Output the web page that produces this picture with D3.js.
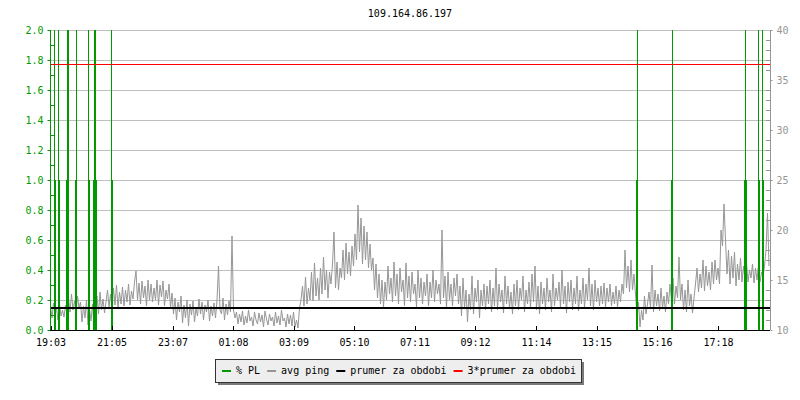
<!DOCTYPE html>
<html>
<head>
<meta charset="utf-8">
<script src="https://cdn.jsdelivr.net/npm/d3@7"></script>
<style>
  html, body { margin: 0; padding: 0; background: #ffffff; }
  svg { display: block; }
  text { font-family: "DejaVu Sans Mono", monospace; font-size: 10px; }
</style>
</head>
<body>
<svg id="chart" width="800" height="400"></svg>
<script>
// ---------------- DATA ----------------
const title = "109.164.86.197";
const startTime = "19:02";           // left edge of the plot
const spanHours = 24;
const pingStepMinutes = 3;           // sample spacing of the avg ping series

const timeTickLabels = ["19:03","21:05","23:07","01:08","03:09","05:10","07:11","09:12","11:14","13:15","15:16","17:18"];
const plTickLabels = [0.0,0.2,0.4,0.6,0.8,1.0,1.2,1.4,1.6,1.8,2.0];
const pingTickLabels = [10,15,20,25,30,35,40];

// avg ping (ms), one value every 3 minutes from 19:02
const avgPing = [
  12.4, 11.2, 12.7, 11.5, 12.2, 11.0, 12.6, 11.4, 12.0, 11.3,
  12.5, 11.6, 13.2, 11.8, 13.6, 12.0, 12.9, 11.7, 13.4, 12.2,
  12.8, 10.8, 12.4, 11.2, 13.0, 10.5, 12.1, 10.9, 12.6, 10.3,
  12.2, 13.4, 11.6, 13.8, 12.0, 13.1, 11.7, 12.8, 14.0, 12.3,
  13.6, 12.1, 14.2, 12.5, 14.5, 12.2, 13.8, 12.6, 14.3, 12.4,
  14.0, 12.8, 14.6, 12.5, 13.9, 13.1, 14.8, 15.9, 13.0, 14.7,
  12.6, 14.9, 13.2, 14.4, 12.4, 15.0, 13.0, 14.6, 12.8, 14.2,
  13.0, 15.0, 12.5, 14.5, 13.3, 14.9, 12.4, 14.0, 13.1, 14.6,
  12.2, 13.7, 11.6, 13.2, 11.0, 12.8, 11.8, 13.4, 10.7, 12.5,
  11.2, 13.0, 10.4, 12.6, 11.5, 12.9, 10.8, 12.2, 11.4, 13.1,
  11.6, 12.8, 11.0, 12.5, 11.8, 13.0, 10.9, 12.4, 11.4, 12.7,
  11.2, 13.0, 16.4, 12.0, 11.6, 13.2, 11.0, 12.6, 11.5, 12.9,
  11.8, 19.4, 12.0, 11.2, 11.8, 10.6, 11.6, 10.8, 11.9, 10.5,
  11.4, 10.7, 12.0, 10.9, 11.3, 10.4, 11.8, 11.0, 10.6, 11.7,
  10.8, 11.5, 10.3, 11.9, 11.1, 10.5, 11.6, 10.9, 11.3, 10.4,
  11.8, 10.7, 11.4, 10.5, 12.0, 10.9, 11.2, 10.3, 11.6, 10.6,
  11.5, 10.4, 11.8, 10.3, 11.0, 10.2, 12.2, 13.0, 14.4, 12.4,
  15.3, 12.6, 14.2, 13.0, 15.8, 12.9, 16.7, 13.4, 15.2, 13.0,
  16.2, 13.6, 17.3, 14.0, 16.0, 13.2, 15.8, 14.6, 16.6, 19.8,
  14.2, 16.8, 14.0, 16.2, 15.2, 18.0, 15.0, 18.7, 15.6, 17.8,
  15.4, 18.4, 16.4, 19.6, 17.0, 22.5, 17.8, 21.2, 16.6, 20.4,
  17.0, 19.8, 16.2, 18.6, 16.0, 17.2, 14.0, 16.6, 13.2, 15.6,
  12.6, 15.0, 12.3, 14.8, 13.0, 16.4, 13.6, 15.2, 12.8, 16.8,
  13.4, 15.6, 12.6, 16.2, 13.8, 15.0, 12.4, 16.7, 13.2, 15.4,
  12.8, 15.8, 13.6, 14.6, 12.3, 16.0, 13.2, 15.2, 12.6, 14.8,
  13.4, 15.6, 12.4, 14.8, 13.2, 16.0, 12.8, 15.0, 13.6, 14.6,
  12.6, 20.0, 13.2, 15.4, 12.2, 15.8, 13.0, 14.6, 12.4, 15.2,
  13.4, 15.6, 12.6, 14.4, 11.4, 15.2, 12.2, 14.0, 10.8, 13.6,
  12.0, 15.4, 11.6, 14.2, 12.8, 15.0, 11.2, 14.0, 12.4, 14.6,
  12.0, 14.4, 12.6, 15.0, 11.8, 14.2, 12.4, 16.2, 12.0, 14.6,
  12.8, 14.0, 11.7, 15.4, 12.6, 14.4, 12.2, 13.8, 11.6, 14.6,
  12.4, 15.0, 12.0, 14.2, 13.0, 15.4, 11.8, 14.0, 12.6, 14.8,
  12.2, 15.6, 12.8, 16.4, 12.0, 14.4, 11.6, 14.8, 12.6, 14.2,
  12.0, 15.2, 12.8, 14.0, 11.8, 15.6, 12.4, 14.2, 13.0, 14.8,
  12.2, 16.0, 12.6, 14.4, 11.7, 14.8, 12.8, 15.0, 12.0, 14.2,
  12.6, 15.4, 11.9, 14.0, 12.6, 15.2, 12.2, 14.6, 13.0, 16.2,
  12.4, 14.6, 12.0, 15.0, 12.8, 14.2, 12.4, 14.4, 12.6, 14.7,
  12.3, 14.2, 12.8, 14.6, 12.4, 13.8, 12.6, 14.4, 12.3, 14.0,
  12.8, 14.6, 13.6, 18.0, 14.2, 16.4, 13.8, 17.0, 14.0, 15.6,
  13.6, 11.4, 12.8, 10.3, 12.0, 11.0, 13.4, 11.6, 12.6, 13.8,
  12.2, 16.5, 11.8, 14.0, 12.4, 13.6, 11.9, 14.2, 12.2, 13.4,
  11.8, 13.8, 12.6, 14.6, 13.0, 15.2, 12.6, 14.4, 13.2, 17.3,
  13.0, 14.6, 12.0, 14.0, 11.8, 15.0, 12.4, 13.6, 11.7, 13.2,
  14.6, 16.2, 13.8, 15.6, 14.2, 17.0, 13.9, 16.4, 14.4, 15.8,
  14.0, 16.8, 14.6, 17.0, 15.0, 16.2, 14.6, 20.0, 18.4, 22.6,
  19.0, 15.6, 18.0, 14.6, 17.4, 15.2, 17.8, 14.4, 16.6, 15.0,
  17.2, 14.8, 16.4, 15.0, 16.7, 14.8, 16.0, 15.2, 16.6, 14.7,
  16.2, 15.0, 16.5, 14.8, 15.8, 15.4, 16.4, 18.0, 21.7, 16.4
];

// packet loss samples (2-minute steps); values above 2.0 are clipped at the top
const plTimes = [
  "19:10","19:12",
  "19:18","19:20",
  "19:34","19:36","19:38",
  "19:52","19:54",
  "20:18","20:20",
  "20:28","20:30","20:32","20:34",
  "21:04","21:06",
  "14:34","14:36",
  "15:44","15:46",
  "18:10","18:12","18:14",
  "18:38","18:40",
  "18:46","18:48"
];
const plValues = [
  3.0, 1.0,
  3.0, 1.0,
  1.0, 3.0, 3.0,
  1.0, 3.0,
  3.0, 1.0,
  1.0, 3.0, 3.0, 1.0,
  3.0, 1.0,
  1.0, 3.0,
  1.0, 3.0,
  1.0, 3.0, 1.0,
  3.0, 1.0,
  3.0, 1.0
];
const plSampleMinutes = 2;

const avgPeriod = 12.2;               // "prumer za obdobi"
const avgPeriodFactor = 3;            // "3*prumer za obdobi"

const legendLabels = ["% PL", "avg ping", "prumer za obdobi", "3*prumer za obdobi"];
const colors = { pl: "#009a00", ping: "#969696", avg: "#000000", avg3: "#ff0000", grid: "#bfbfbf" };

// ---------------- HELPERS ----------------
function hm(s) { const [h, m] = s.split(":").map(Number); return { h, m }; }
const st = hm(startTime);
const t0 = new Date(2000, 0, 1, st.h, st.m);
const t1 = d3.timeHour.offset(t0, spanHours);
function toDate(s) {
  const { h, m } = hm(s);
  let d = new Date(2000, 0, 1, h, m);
  if (d < t0) d = d3.timeDay.offset(d, 1);
  return d;
}

// ---------------- LAYOUT ----------------
const plot = { left: 50, right: 770, top: 30, bottom: 330 };
const svg = d3.select("#chart");

const x = d3.scaleTime().domain([t0, t1]).range([plot.left, plot.right]);
const yL = d3.scaleLinear().domain([0, 2]).range([plot.bottom, plot.top]);
const yR = d3.scaleLinear().domain([10, 40]).range([plot.bottom, plot.top]);

svg.append("defs").append("clipPath").attr("id", "clip")
  .append("rect").attr("x", plot.left).attr("y", plot.top)
  .attr("width", plot.right - plot.left).attr("height", plot.bottom - plot.top);

// title
svg.append("text").attr("x", 410).attr("y", 17).attr("text-anchor", "middle")
  .attr("fill", "#000").text(title);

// grid lines
svg.append("g").attr("shape-rendering", "crispEdges")
  .selectAll("line").data(plTickLabels.filter(v => v > 0)).join("line")
  .attr("x1", plot.left).attr("x2", plot.right)
  .attr("y1", d => Math.round(yL(d)) + 0.5).attr("y2", d => Math.round(yL(d)) + 0.5)
  .attr("stroke", colors.grid).attr("stroke-width", 1);

const g = svg.append("g").attr("clip-path", "url(#clip)");

// avg ping line
const pingData = avgPing.map((v, i) => ({ t: d3.timeMinute.offset(t0, i * pingStepMinutes), v }));
g.append("path").datum(pingData)
  .attr("fill", "none").attr("stroke", colors.ping).attr("stroke-width", 1)
  .attr("stroke-linejoin", "miter")
  .attr("d", d3.line().x(d => x(d.t) + 0.5).y(d => yR(d.v)).curve(d3.curveLinear));

// packet loss bars
const plData = plTimes.map((s, i) => ({ t: toDate(s), v: plValues[i] }));
g.append("g").attr("shape-rendering", "crispEdges")
  .selectAll("rect").data(plData).join("rect")
  .attr("x", d => x(d.t))
  .attr("width", d => Math.max(1, x(d3.timeMinute.offset(d.t, plSampleMinutes)) - x(d.t)))
  .attr("y", d => yL(Math.min(d.v, 2.05)))
  .attr("height", d => yL(0) - yL(Math.min(d.v, 2.05)))
  .attr("fill", colors.pl);

// average lines
g.append("line").attr("x1", plot.left).attr("x2", plot.right)
  .attr("y1", yR(avgPeriod)).attr("y2", yR(avgPeriod))
  .attr("stroke", colors.avg).attr("stroke-width", 2).attr("shape-rendering", "crispEdges");
g.append("line").attr("x1", plot.left).attr("x2", plot.right)
  .attr("y1", Math.round(yR(avgPeriod * avgPeriodFactor)) + 0.5).attr("y2", Math.round(yR(avgPeriod * avgPeriodFactor)) + 0.5)
  .attr("stroke", colors.avg3).attr("stroke-width", 1).attr("shape-rendering", "crispEdges");

// ---------------- AXES ----------------
// left axis (green)
const leftAxis = svg.append("g").attr("transform", `translate(${plot.left + 0.5},0)`)
  .call(d3.axisLeft(yL).tickValues(plTickLabels).tickFormat(d3.format(".1f")).tickSize(3).tickPadding(4));
leftAxis.select(".domain").attr("stroke", colors.pl).attr("d", `M0,${plot.bottom}V${plot.top}`);
leftAxis.selectAll(".tick line").attr("stroke", colors.pl);
leftAxis.selectAll(".tick text").attr("fill", colors.pl)
  .style("font-family", "'DejaVu Sans Mono', monospace").style("font-size", "10px");
// inward minor ticks
svg.append("g").attr("shape-rendering", "crispEdges")
  .selectAll("line").data(d3.range(1, 20, 2).map(v => v / 10)).join("line")
  .attr("x1", plot.left).attr("x2", plot.left + 4)
  .attr("y1", d => Math.round(yL(d)) + 0.5).attr("y2", d => Math.round(yL(d)) + 0.5)
  .attr("stroke", colors.pl);

// right axis (gray)
const rightAxis = svg.append("g").attr("transform", `translate(${plot.right + 0.5},0)`)
  .call(d3.axisRight(yR).tickValues(pingTickLabels).tickFormat(d3.format("d")).tickSize(2).tickPadding(4));
rightAxis.select(".domain").attr("stroke", colors.ping).attr("d", `M0,${plot.bottom}V${plot.top}`);
rightAxis.selectAll(".tick line").attr("stroke", colors.ping);
rightAxis.selectAll(".tick text").attr("fill", colors.ping)
  .style("font-family", "'DejaVu Sans Mono', monospace").style("font-size", "10px");
svg.append("g").attr("shape-rendering", "crispEdges")
  .selectAll("line").data(d3.range(10, 41).filter(v => v % 5 !== 0)).join("line")
  .attr("x1", plot.right - 4).attr("x2", plot.right)
  .attr("y1", d => Math.round(yR(d)) + 0.5).attr("y2", d => Math.round(yR(d)) + 0.5)
  .attr("stroke", colors.ping);

// bottom axis (black)
const bottomAxis = svg.append("g").attr("transform", `translate(0,${plot.bottom + 0.5})`)
  .call(d3.axisBottom(x).tickValues(timeTickLabels.map(toDate)).tickFormat(d3.timeFormat("%H:%M")).tickSize(0).tickPadding(8));
bottomAxis.select(".domain").attr("stroke", "#000").attr("d", `M${plot.left},0H${plot.right}`);
bottomAxis.selectAll(".tick text").attr("fill", "#000")
  .style("font-family", "'DejaVu Sans Mono', monospace").style("font-size", "10px");
bottomAxis.selectAll(".tick").append("line").attr("y1", 0).attr("y2", -5).attr("stroke", "#000")
  .attr("shape-rendering", "crispEdges");

// ---------------- LEGEND ----------------
const lg = svg.append("g");
const legendColors = [colors.pl, colors.ping, colors.avg, colors.avg3];
const box = { x: 215, y: 359, w: 366, h: 23 };
lg.append("rect").attr("x", box.x + 3).attr("y", box.y + 3).attr("width", box.w).attr("height", box.h)
  .attr("fill", "#7a7a7a");
lg.append("rect").attr("x", box.x + 0.5).attr("y", box.y + 0.5).attr("width", box.w).attr("height", box.h)
  .attr("fill", "#eeeeee").attr("stroke", "#333").attr("stroke-width", 1).attr("shape-rendering", "crispEdges");
let lx = box.x + 7;
legendLabels.forEach((lab, i) => {
  lg.append("rect").attr("x", lx).attr("y", box.y + 11).attr("width", 9).attr("height", 2)
    .attr("fill", legendColors[i]);
  const t = lg.append("text").attr("x", lx + 14).attr("y", box.y + 15).attr("fill", "#000").text(lab);
  lx += 14 + t.node().getComputedTextLength() + 7;
});
</script>
</body>
</html>
